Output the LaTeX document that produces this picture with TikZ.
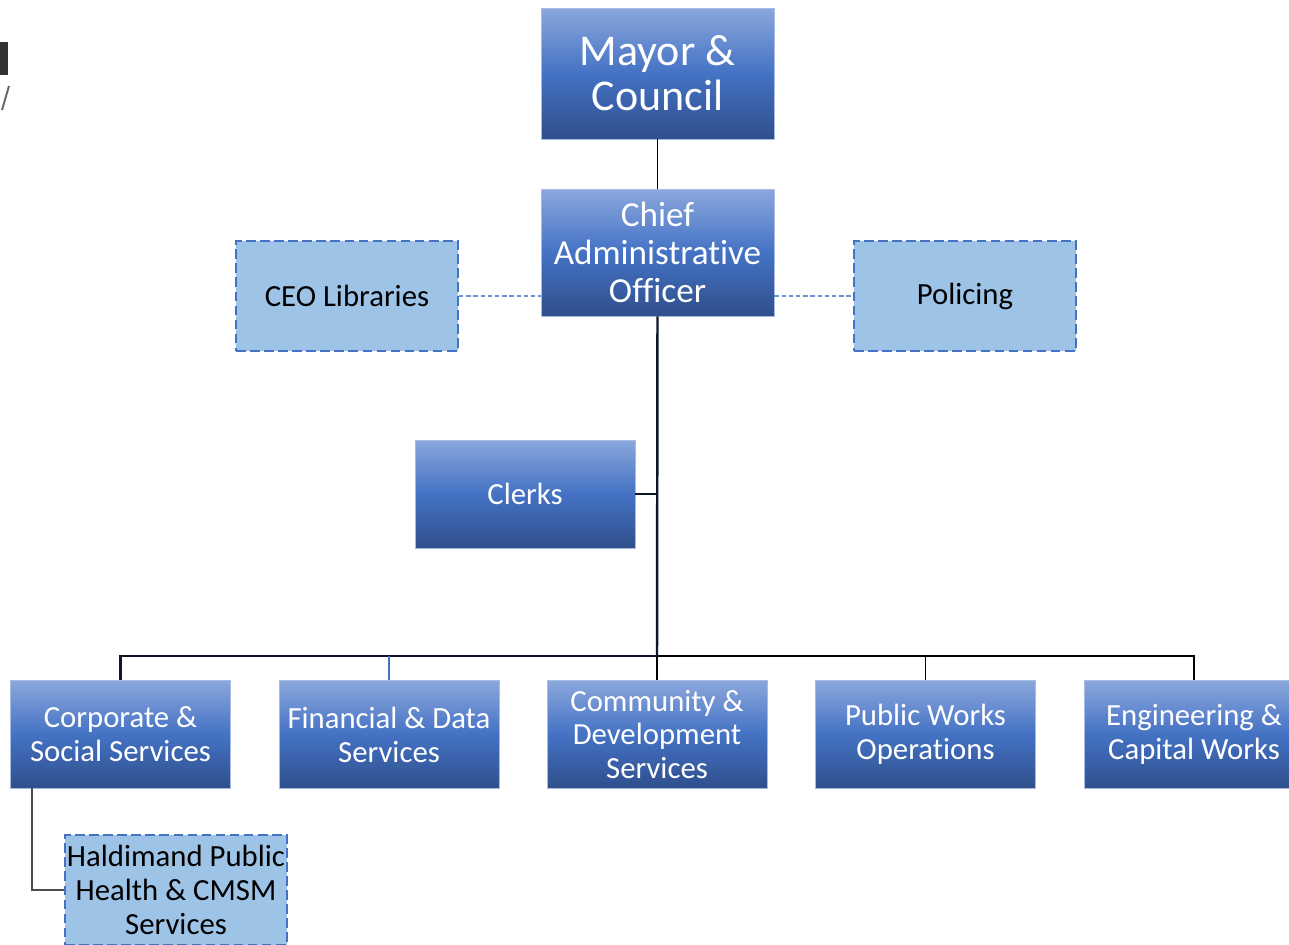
\documentclass[tikz,border=0pt]{standalone}
\usepackage{fontspec}
\setmainfont{Carlito}[Ligatures=NoCommon]
\definecolor{boxtop}{HTML}{8BA7DD}
\definecolor{boxmid}{HTML}{4472C4}
\definecolor{boxbot}{HTML}{2F4F8C}
\definecolor{boxedge}{HTML}{A8BCE2}
\definecolor{advfill}{HTML}{9DC3E6}
\definecolor{advedge}{HTML}{4472C4}
\definecolor{dotblue}{HTML}{6A92D4}
\definecolor{navy}{HTML}{0E1629}

\begin{document}
\begin{tikzpicture}[
  x=0.02cm, y=-0.02cm,
  unit/.style={draw=boxedge, line width=0.4pt, top color=boxtop, bottom color=boxbot,
    middle color=boxmid, text=white, align=center, inner sep=0pt,
    minimum width=4.4cm, minimum height=2.16cm,
    font=\fontsize{17.5}{19.3}\selectfont},
  adv/.style={draw=advedge, fill=advfill, line width=1.1pt, dash pattern=on 5.5pt off 2.5pt,
    align=center, inner sep=0pt, minimum width=4.44cm, minimum height=2.2cm,
    font=\fontsize{17.5}{19.3}\selectfont},
  link/.style={line width=0.7pt, black},
  trunk/.style={line width=1.4pt, navy},
  dotlink/.style={line width=0.7pt, dotblue, dash pattern=on 2.5pt off 1.6pt},
]
\clip (0,0) rectangle (1289,944);

% cut-off logo at the left edge
\fill [black!80] (0,42) rectangle (8,75);
\draw [black!60, line width=1.1pt] (9,86) -- (2,110);

% top of the chart
\node [unit, minimum width=4.66cm, minimum height=2.62cm,
  font=\fontsize{25}{25.5}\selectfont] (mayor) at (657.5,73.5) {Mayor \&\\Council};
\node [unit, minimum width=4.66cm, minimum height=2.54cm,
  font=\fontsize{20}{21.5}\selectfont] (cao) at (657.5,252.5) {Chief\\Administrative\\Officer};
\node [adv] (lib) at (347,296) {CEO Libraries};
\node [adv] (pol) at (965,296) {Policing};
\node [unit] (clerks) at (525,494) {Clerks};

% departments
\node [unit] (corp) at (120.5,734.5) {Corporate \&\\Social Services};
\node [unit] (fin) at (389,734.5) {Financial \& Data\\Services};
\node [unit] (comm) at (657,734.5) {Community \&\\Development\\Services};
\node [unit] (pw) at (925.5,734.5) {Public Works\\Operations};
\node [unit] (eng) at (1194,734.5) {Engineering \&\\Capital Works};
\node [adv] (hph) at (176,890) {Haldimand Public\\Health \& CMSM\\Services};

\coordinate (bus) at (657,656);
\coordinate (hook) at (32,788);

\draw [link] (mayor) -- (cao);
\draw [dotlink] (lib.east) -- (lib.east -| cao.west);
\draw [dotlink] (pol.west -| cao.east) -- (pol.west);
\draw [trunk] (cao.south) -- (bus);
\draw [trunk] (clerks.east) -- (clerks.east -| bus);
\draw [trunk] (bus) -| (corp.north);
\draw [link] (bus) -| (eng.north);
\draw [link, advedge] (fin.north |- bus) -- (fin.north);
\draw [link] (bus) -- (comm.north);
\draw [link] (pw.north |- bus) -- (pw.north);
\draw [link, black!70] (hook) |- (hph.west);

\end{tikzpicture}
\end{document}
